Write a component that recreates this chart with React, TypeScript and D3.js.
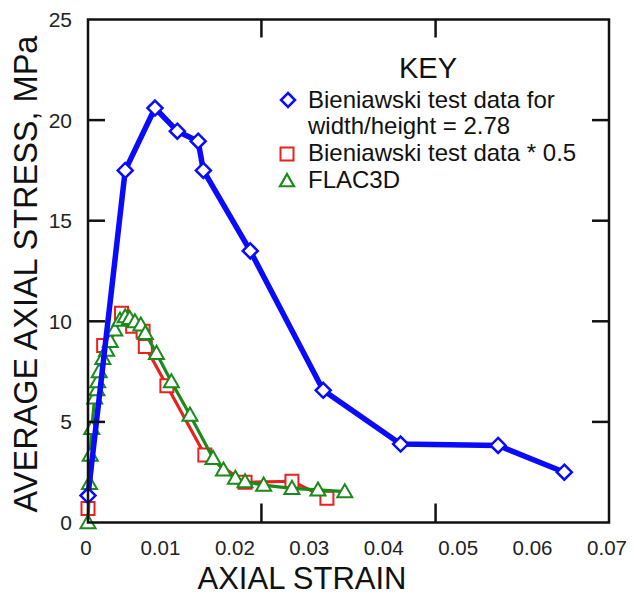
import React from "react";
import * as d3 from "d3";

const xTickLabels = [0, 0.01, 0.02, 0.03, 0.04, 0.05, 0.06, 0.07];
const xTickMarks = [0.0233, 0.0467];
const yTickLabels = [0, 5, 10, 15, 20, 25];
const yTickMarks = [5, 10, 15, 20];

const bieniawskiStrain = [0, 0.005, 0.009, 0.012, 0.0148, 0.0155, 0.0218, 0.0316, 0.042, 0.0551, 0.064];
const bieniawskiStress = [1.34, 17.5, 20.6, 19.45, 18.95, 17.5, 13.5, 6.57, 3.9, 3.83, 2.5];

const halfStrain = [0, 0.0021, 0.0045, 0.006, 0.0074, 0.0077, 0.0106, 0.0157, 0.0211, 0.0274, 0.0321];
const halfStress = [0.7, 8.8, 10.4, 9.75, 9.5, 8.75, 6.8, 3.35, 2.0, 2.05, 1.2];

const flacStrain = [0, 0.0002, 0.0003, 0.0005, 0.0009, 0.0012, 0.0013, 0.0015, 0.002, 0.0025, 0.003, 0.0036, 0.0043, 0.005, 0.0056, 0.0063, 0.0071, 0.0077, 0.0092, 0.0112, 0.0137, 0.0168, 0.0182, 0.0198, 0.0211, 0.0236, 0.0274, 0.0309, 0.0345];
const flacStress = [0, 1.95, 3.35, 4.68, 6.19, 6.6, 7.0, 7.5, 8.16, 8.57, 9.0, 9.57, 10.06, 10.23, 10.15, 9.98, 9.82, 9.4, 8.41, 7.0, 5.34, 3.19, 2.61, 2.2, 2.03, 1.86, 1.7, 1.62, 1.53];

const legendLabels = [
  ["Bieniawski test data for", "width/height = 2.78"],
  ["Bieniawski test data * 0.5"],
  ["FLAC3D"],
];

const BLUE = "#0a0aff";
const RED = "#e8221e";
const GREEN = "#1a8a1a";
const FONT = "Liberation Sans, Arial, sans-serif";

const W = 634;
const H = 598;

const x = d3.scaleLinear().domain([0, 0.07]).range([88, 609]);
const y = d3.scaleLinear().domain([0, 25]).range([522.5, 19.5]);

const line = d3
  .line<[number, number]>()
  .x((d) => x(d[0]))
  .y((d) => y(d[1]));

const zip = (a: number[], b: number[]): [number, number][] => a.map((v, i) => [v, b[i]]);

const diamond = (cx: number, cy: number, r = 7.5) =>
  `M${cx},${cy - r}L${cx + r},${cy}L${cx},${cy + r}L${cx - r},${cy}Z`;
const square = (cx: number, cy: number, r = 6.5) =>
  `M${cx - r},${cy - r}H${cx + r}V${cy + r}H${cx - r}Z`;
const triangle = (cx: number, cy: number, r = 7.5) =>
  `M${cx},${cy - r}L${cx + r},${cy + r * 0.75}L${cx - r},${cy + r * 0.75}Z`;

export default function App() {
  const blue = zip(bieniawskiStrain, bieniawskiStress);
  const red = zip(halfStrain, halfStress);
  const green = zip(flacStrain, flacStress);
  const [x0, x1] = x.range();
  const [y0, y1] = y.range();

  return (
    <svg
      width={W}
      height={H}
      style={{ position: "absolute", left: 0, top: 0, background: "#fff" }}
      fontFamily={FONT}
    >
      <rect width={W} height={H} fill="#fff" />

      {/* red series */}
      <path d={line(red) || ""} fill="none" stroke={RED} strokeWidth={3.2} strokeLinejoin="round" />
      {red.map((d, i) => (
        <path key={"r" + i} d={square(x(d[0]), y(d[1]))} fill="#fff" stroke={RED} strokeWidth={2} />
      ))}

      {/* green series */}
      <path d={line(green) || ""} fill="none" stroke={GREEN} strokeWidth={3.2} strokeLinejoin="round" />
      {green.map((d, i) => (
        <path key={"g" + i} d={triangle(x(d[0]), y(d[1]))} fill="#fff" stroke={GREEN} strokeWidth={2} />
      ))}

      {/* blue series */}
      <path d={line(blue) || ""} fill="none" stroke={BLUE} strokeWidth={5.5} strokeLinejoin="round" />
      {blue.map((d, i) => (
        <path key={"b" + i} d={diamond(x(d[0]), y(d[1]))} fill="#fff" stroke={BLUE} strokeWidth={2.5} />
      ))}

      {/* frame */}
      <rect x={x0} y={y1} width={x1 - x0} height={y0 - y1} fill="none" stroke="#111" strokeWidth={2.5} />

      {/* ticks */}
      {yTickMarks.map((t) => (
        <g key={"yt" + t}>
          <line x1={x0} x2={x0 + 17} y1={y(t)} y2={y(t)} stroke="#111" strokeWidth={2.5} />
          <line x1={x1} x2={x1 - 17} y1={y(t)} y2={y(t)} stroke="#111" strokeWidth={2.5} />
        </g>
      ))}
      {xTickMarks.map((t) => (
        <g key={"xt" + t}>
          <line x1={x(t)} x2={x(t)} y1={y0} y2={y0 - 19} stroke="#111" strokeWidth={2.5} />
          <line x1={x(t)} x2={x(t)} y1={y1} y2={y1 + 18} stroke="#111" strokeWidth={2.5} />
        </g>
      ))}

      {/* tick labels */}
      {yTickLabels.map((t) => (
        <text key={"yl" + t} x={72} y={y(t)} dy="0.36em" textAnchor="end" fontSize={21} fill="#222">
          {t}
        </text>
      ))}
      {xTickLabels.map((t) => (
        <text key={"xl" + t} x={x(t) - 2} y={555} textAnchor="middle" fontSize={20.5} fill="#222">
          {t === 0 ? "0" : d3.format(".2f")(t)}
        </text>
      ))}

      {/* axis titles */}
      <text x={302} y={589} textAnchor="middle" fontSize={31} fill="#111">
        AXIAL STRAIN
      </text>
      <text
        transform={`translate(37,${274}) rotate(-90)`}
        textAnchor="middle"
        fontSize={32.5}
        fill="#111"
      >
        AVERAGE AXIAL STRESS, MPa
      </text>

      {/* legend */}
      <text x={428} y={78} textAnchor="middle" fontSize={29} fill="#111">
        KEY
      </text>
      <path d={diamond(288, 100, 7)} fill="#fff" stroke={BLUE} strokeWidth={2.5} />
      <path d={square(287, 154, 6.5)} fill="#fff" stroke={RED} strokeWidth={2} />
      <path d={triangle(287, 181, 7)} fill="#fff" stroke={GREEN} strokeWidth={2.2} />
      <text x={308} y={108} fontSize={24} fill="#111">
        {legendLabels[0][0]}
      </text>
      <text x={308} y={134} fontSize={24} fill="#111">
        {legendLabels[0][1]}
      </text>
      <text x={308} y={161} fontSize={24} fill="#111">
        {legendLabels[1][0]}
      </text>
      <text x={308} y={188} fontSize={24} fill="#111">
        {legendLabels[2][0]}
      </text>
    </svg>
  );
}
